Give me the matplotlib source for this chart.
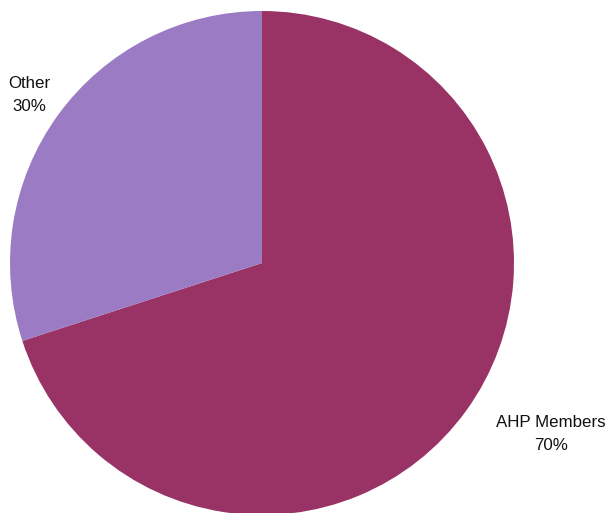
import matplotlib
matplotlib.use("Agg")
import matplotlib.pyplot as plt

categories = ["AHP Members", "Other"]
values = [70, 30]
colors = ["#993366", "#9a7bc4"]

fig = plt.figure(figsize=(6.08, 5.13), dpi=100)
ax = fig.add_axes([0, 0, 1, 1])

cx, cy, r = 262, 513 - 263, 252
wedges, _ = ax.pie(values, colors=colors, startangle=90, counterclock=False,
                   center=(cx, cy), radius=r, frame=True,
                   wedgeprops=dict(linewidth=0, antialiased=True))
ax.set_xlim(0, 608)
ax.set_ylim(0, 513)
ax.set_aspect("equal")
ax.axis("off")

label_pos = {"AHP Members": (551, 513 - 434), "Other": (29, 513 - 95)}
for cat, v in zip(categories, values):
    x, y = label_pos[cat]
    ax.text(x, y, f"{cat}\n{v}%", ha="center", va="center", fontsize=12.2,
            family="Liberation Sans", color="#111111", linespacing=1.65)

fig.savefig("out.png", dpi=100)
